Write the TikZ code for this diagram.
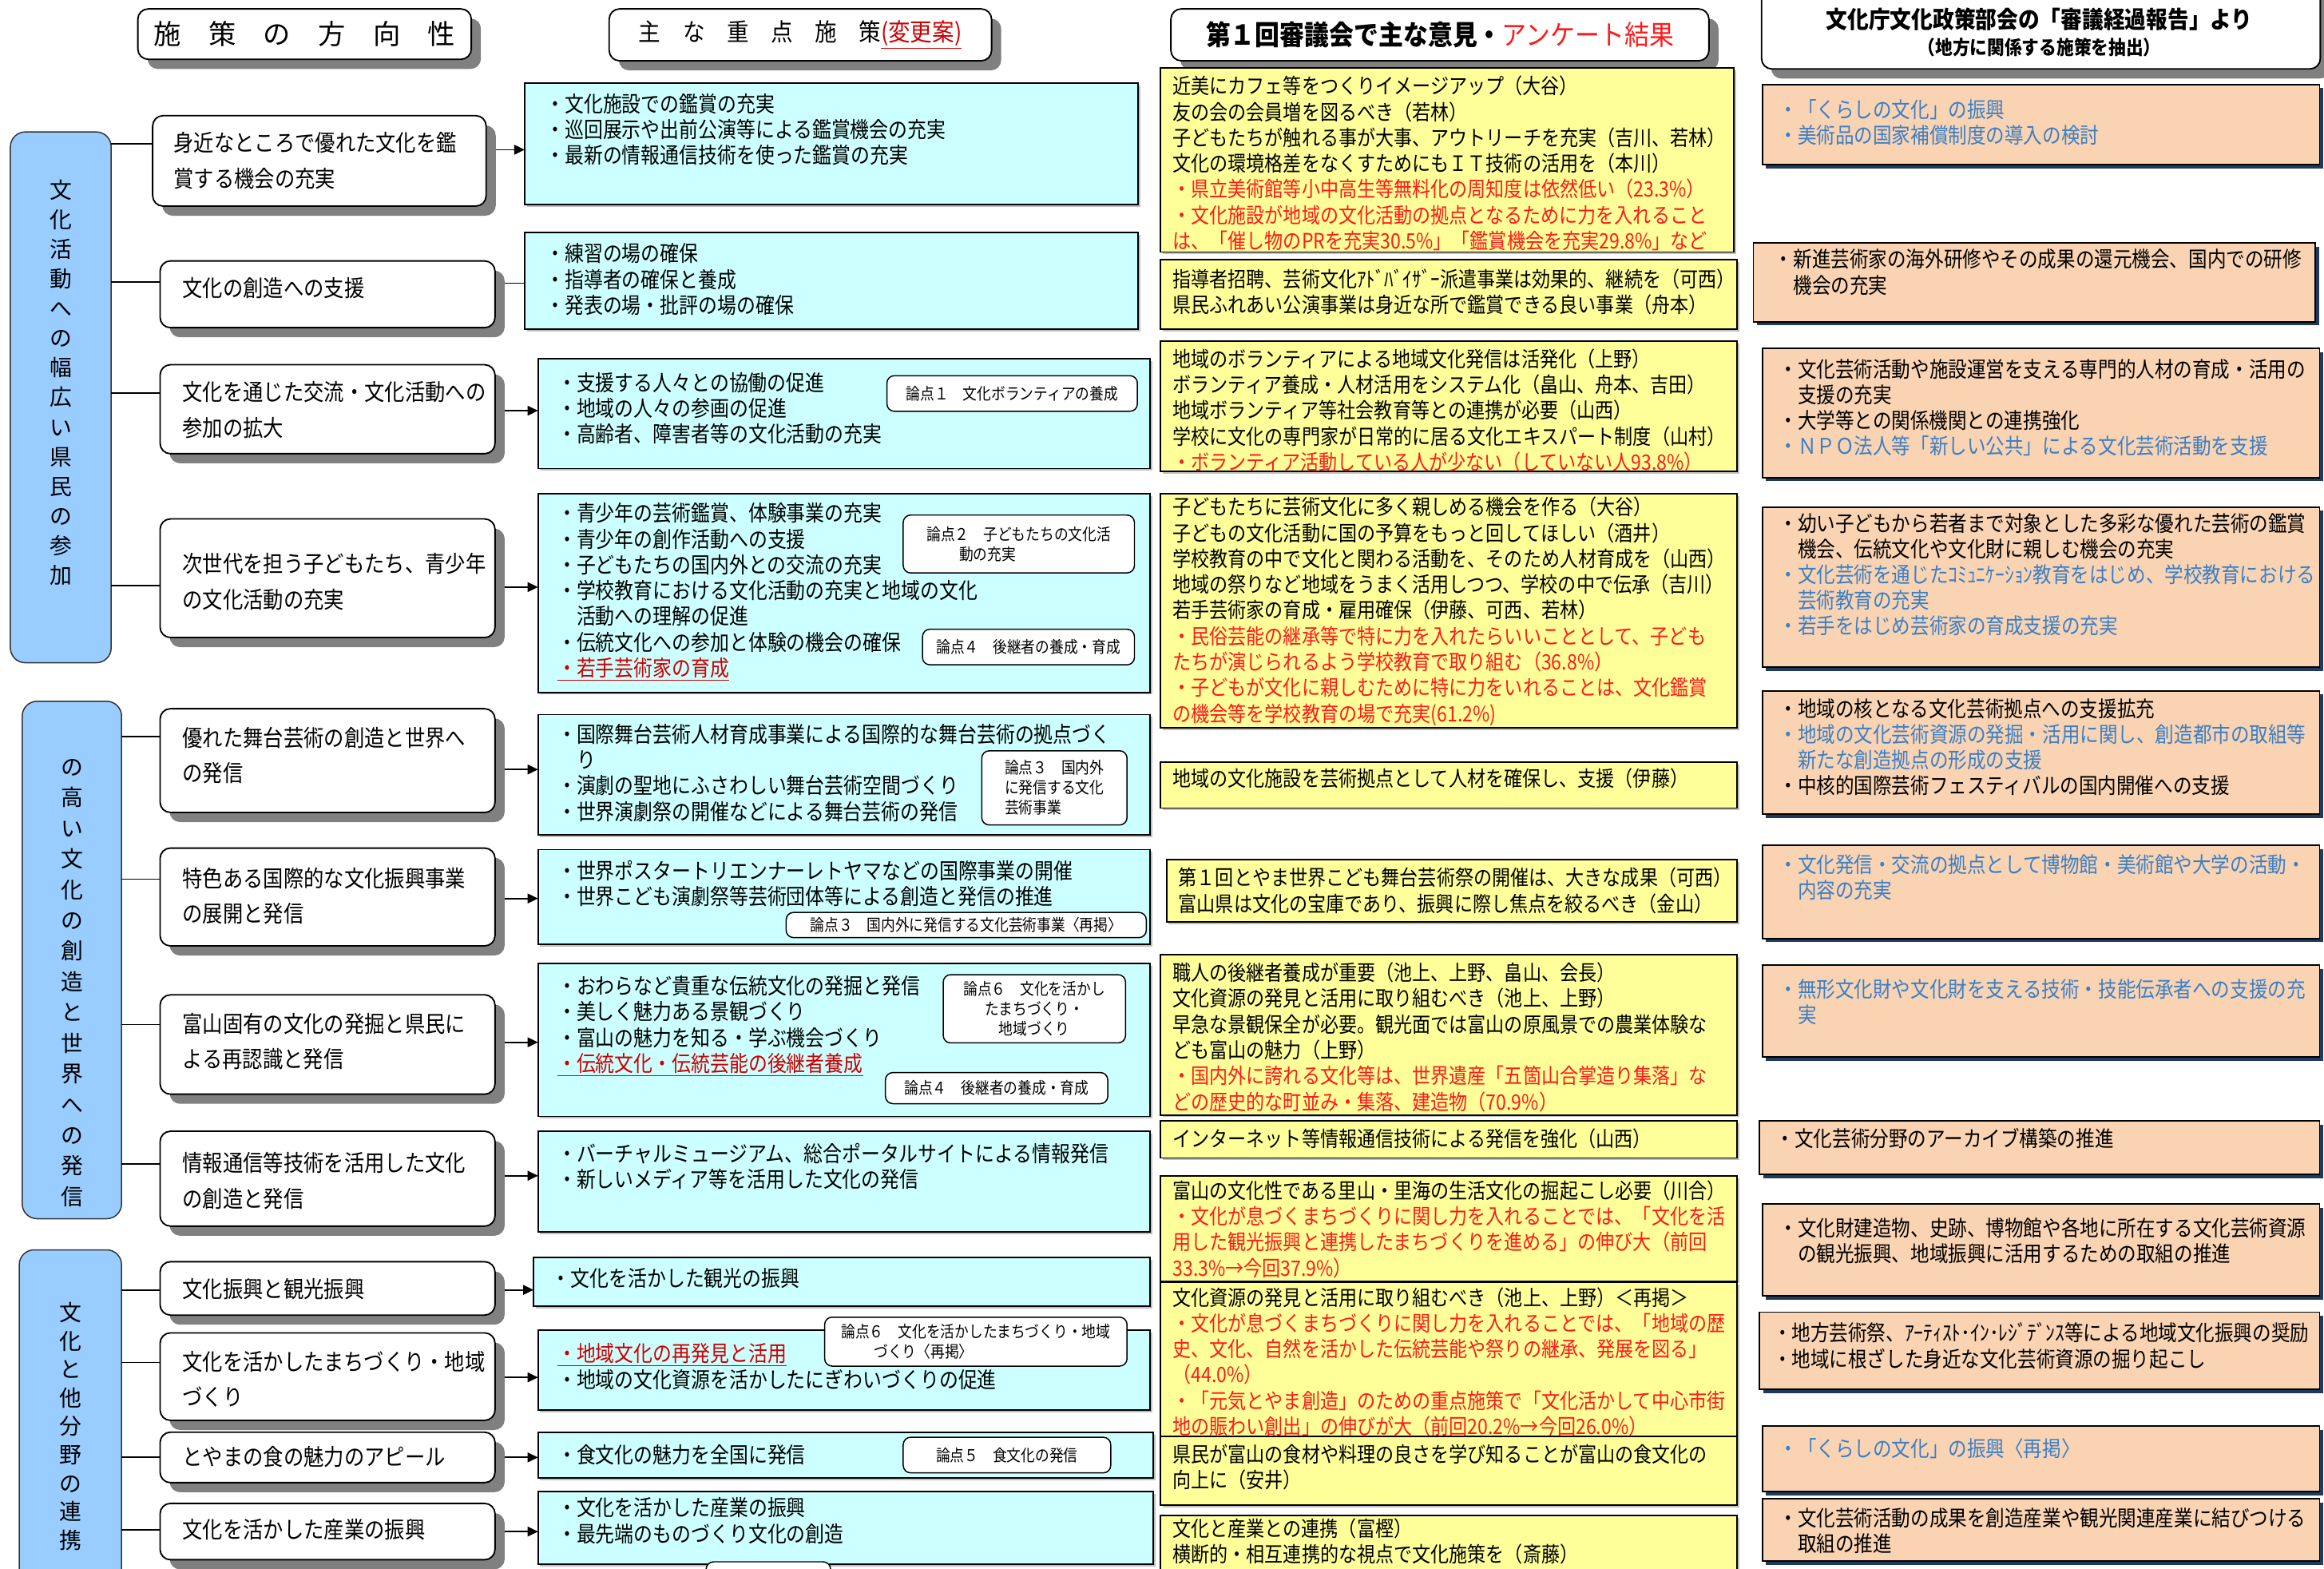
\documentclass[tikz,border=0pt]{standalone}
\usepackage{fontspec}
\setmainfont{Noto Sans CJK JP}
\newfontfamily\jp[FakeStretch=0.87]{Noto Sans CJK JP}
\newfontfamily\jpd[FakeStretch=0.88]{Noto Sans CJK JP}
\newfontfamily\jph[FakeStretch=0.9]{Noto Sans CJK JP}
\usetikzlibrary{shadows,arrows.meta}
\definecolor{cyanbox}{HTML}{CCFFFF}
\definecolor{yelbox}{HTML}{FFFF99}
\definecolor{peach}{HTML}{F9D3B2}
\definecolor{navy}{HTML}{1F3A5C}
\definecolor{grpblue}{HTML}{99CCFF}
\definecolor{shgray}{HTML}{808080}
\definecolor{bltext}{HTML}{3A7FC6}
\definecolor{rtext}{HTML}{FF1A1A}
\definecolor{ured}{HTML}{CC0000}
\newcommand\fbody{\jp\fontsize{14.3}{17.4}\selectfont}
\newcommand\fcy{\jp\fontsize{14.8}{17.4}\selectfont}
\newcommand\fpe{\jp\fontsize{14.6}{17.3}\selectfont}
\newcommand\fdir{\jpd\fontsize{15.5}{24}\selectfont}
\newcommand\ftag{\jp\fontsize{11}{13.5}\selectfont}
\newcommand\rl[1]{\textcolor{rtext}{#1}}
\newcommand\bl[1]{\textcolor{bltext}{#1}}
\newcommand\ul[1]{\textcolor{ured}{\underline{#1}}}
\newcommand\bx[6][]{\node[anchor=north west,inner sep=0pt,outer sep=0pt,minimum width={#5pt-#3pt},minimum height={#6pt-#4pt},#1] (#2) at (#3,#4) {};}
\newcommand\tx[5][]{\node[anchor=north west,inner sep=0pt,align=left,#1] (#2) at ([shift={(#4)}]#3.north west) {#5};}
\newcommand\tg[7][align=left]{\node[tagbox,font=\ftag,anchor=north west,inner sep=1pt,minimum width={#5pt-#3pt},minimum height={#6pt-#4pt},#1] (#2) at (#3,#4) {#7};}
\tikzset{
  cbox/.style={draw,line width=1pt,fill=cyanbox,drop shadow={shadow xshift=1.5pt,shadow yshift=-1.5pt,fill=gray!50,opacity=1}},
  ybox/.style={draw,line width=1pt,fill=yelbox,drop shadow={shadow xshift=1.5pt,shadow yshift=-1.5pt,fill=gray!50,opacity=1}},
  pbox/.style={draw,line width=1pt,fill=peach,drop shadow={shadow xshift=2.5pt,shadow yshift=-2.5pt,fill=navy,opacity=1}},
  dbox/.style={draw,line width=1pt,fill=white,rounded corners=7pt,drop shadow={shadow xshift=6.5pt,shadow yshift=-6.5pt,fill=shgray,opacity=1}},
  gbox/.style={draw=black!80,line width=0.8pt,fill=grpblue,rounded corners=10pt},
  tagbox/.style={draw,line width=0.8pt,fill=white,rounded corners=5pt},
  conn/.style={line width=1pt},
  arr/.style={line width=1pt,-{Triangle[length=7pt,width=6.5pt]}},
  btxt/.style={font=\fbody},
  ctxt/.style={font=\fcy},
  ptxt/.style={font=\fpe},
  dtxt/.style={font=\fdir},
  vtxt/.style={align=center,inner sep=0pt}
}
\begin{document}
\begin{tikzpicture}[x=1pt,y=-1pt]
\fill[white] (0,0) rectangle (1568,1058);
\useasboundingbox (0,0) rectangle (1568,1058);

% ---------- headers ----------
\bx[dbox]{H1}{93}{6}{318}{40}
\node[font=\fontsize{18.5}{20}\selectfont] (H1t) at (H1.center) {施　策　の　方　向　性};
\bx[dbox]{H2}{411}{6}{669}{41}
\node[font=\jph\fontsize{16.5}{18}\selectfont] (H2t) at (H2.center) {主　な　重　点　施　策\ul{(変更案)}};
\bx[dbox]{H3}{790}{6}{1153}{41}
\node[font=\jph\bfseries\fontsize{18.5}{20}\selectfont] (H3t) at (H3.center) {第１回審議会で主な意見・\textcolor{rtext}{\mdseries アンケート結果}};
\node[dbox,anchor=north west,inner sep=0pt,minimum width=377pt,minimum height=58pt] (H4) at (1188,-12) {};
\node[font=\jph\bfseries\fontsize{16}{18}\selectfont] (H4a) at (1376,13) {文化庁文化政策部会の「審議経過報告」より};
\node[font=\jph\bfseries\fontsize{13}{14}\selectfont] (H4b) at (1376,32) {（地方に関係する施策を抽出）};

% ---------- groups ----------
\bx[gbox]{G1}{7}{89}{75}{447}
\node[vtxt,font=\fontsize{15}{20}\selectfont] (G1t) at (41,258) {文\\化\\活\\動\\へ\\の\\幅\\広\\い\\県\\民\\の\\参\\加};
\bx[gbox]{G2}{15}{473}{82}{822}
\node[vtxt,font=\fontsize{15}{20.7}\selectfont] (G2t) at (48.5,663) {の\\高\\い\\文\\化\\の\\創\\造\\と\\世\\界\\へ\\の\\発\\信};
\bx[gbox]{G3}{13}{843}{82}{1080}
\node[vtxt,font=\fontsize{15}{19.2}\selectfont] (G3t) at (47.5,962) {文\\化\\と\\他\\分\\野\\の\\連\\携};

% ---------- direction boxes ----------
\bx[dbox]{D1}{103}{78}{328}{139}
\tx[dtxt]{D1t}{D1}{14,11}{身近なところで優れた文化を鑑\\賞する機会の充実}
\bx[dbox]{D2}{108}{176}{334}{221}
\tx[dtxt]{D2t}{D2}{15,11}{文化の創造への支援}
\bx[dbox]{D3}{108}{246}{334}{306}
\tx[dtxt]{D3t}{D3}{15,11}{文化を通じた交流・文化活動への\\参加の拡大}
\bx[dbox]{D4}{108}{350}{334}{430}
\tx[dtxt]{D4t}{D4}{15,23}{次世代を担う子どもたち、青少年\\の文化活動の充実}
\bx[dbox]{D5}{108}{478}{334}{548}
\tx[dtxt]{D5t}{D5}{15,12}{優れた舞台芸術の創造と世界へ\\の発信}
\bx[dbox]{D6}{108}{572}{334}{638}
\tx[dtxt]{D6t}{D6}{15,13}{特色ある国際的な文化振興事業\\の展開と発信}
\bx[dbox]{D7}{108}{671}{334}{738}
\tx[dtxt]{D7t}{D7}{15,12}{富山固有の文化の発掘と県民に\\よる再認識と発信}
\bx[dbox]{D8}{108}{763}{334}{827}
\tx[dtxt]{D8t}{D8}{15,14}{情報通信等技術を活用した文化\\の創造と発信}
\bx[dbox]{D9}{108}{851}{334}{887}
\tx[dtxt]{D9t}{D9}{15,11}{文化振興と観光振興}
\bx[dbox]{D10}{108}{899}{334}{958}
\tx[dtxt]{D10t}{D10}{15,12}{文化を活かしたまちづくり・地域\\づくり}
\bx[dbox]{D11}{108}{966}{334}{1000}
\tx[dtxt]{D11t}{D11}{15,9}{とやまの食の魅力のアピール}
\bx[dbox]{D12}{108}{1014}{334}{1052}
\tx[dtxt]{D12t}{D12}{15,10}{文化を活かした産業の振興}

% ---------- cyan boxes ----------
\bx[cbox]{C1}{354}{56}{768}{138}
\tx[ctxt]{C1t}{C1}{14,7}{・文化施設での鑑賞の充実\\・巡回展示や出前公演等による鑑賞機会の充実\\・最新の情報通信技術を使った鑑賞の充実}
\bx[cbox]{C2}{354}{157}{768}{222}
\tx[ctxt]{C2t}{C2}{14,7}{・練習の場の確保\\・指導者の確保と養成\\・発表の場・批評の場の確保}
\bx[cbox]{C3}{363}{242}{776}{316}
\tx[ctxt]{C3t}{C3}{13,9}{・支援する人々との協働の促進\\・地域の人々の参画の促進\\・高齢者、障害者等の文化活動の充実}
\tg{T1}{598}{253}{767}{277}{論点１　文化ボランティアの養成}
\bx[cbox]{C4}{363}{333}{776}{467}
\tx[ctxt]{C4t}{C4}{13,6}{・青少年の芸術鑑賞、体験事業の充実\\・青少年の創作活動への支援\\・子どもたちの国内外との交流の充実\\・学校教育における文化活動の充実と地域の文化\\　活動への理解の促進\\・伝統文化への参加と体験の機会の確保\\\ul{・若手芸術家の育成}}
\tg{T2}{609}{347}{765}{386}{論点２　子どもたちの文化活\\\hspace{2em}動の充実}
\tg{T3}{622}{424}{765}{448}{論点４　後継者の養成・育成}
\bx[cbox]{C5}{363}{482}{776}{563}
\tx[ctxt]{C5t}{C5}{13,6}{・国際舞台芸術人材育成事業による国際的な舞台芸術の拠点づく\\　り\\・演劇の聖地にふさわしい舞台芸術空間づくり\\・世界演劇祭の開催などによる舞台芸術の発信}
\tg{T4}{662}{506}{760}{556}{論点３　国内外\\に発信する文化\\芸術事業}
\bx[cbox]{C6}{363}{573}{776}{637}
\tx[ctxt]{C6t}{C6}{13,7}{・世界ポスタートリエンナーレトヤマなどの国際事業の開催\\・世界こども演劇祭等芸術団体等による創造と発信の推進}
\tg{T5}{530}{615}{773}{632}{論点３　国内外に発信する文化芸術事業〈再掲〉}
\bx[cbox]{C7}{363}{650}{776}{753}
\tx[ctxt]{C7t}{C7}{13,8}{・おわらなど貴重な伝統文化の発掘と発信\\・美しく魅力ある景観づくり\\・富山の魅力を知る・学ぶ機会づくり\\\ul{・伝統文化・伝統芸能の後継者養成}}
\tg[align=center]{T6}{636}{657}{759}{703}{論点６　文化を活かし\\たまちづくり・\\地域づくり}
\tg{T7}{597}{723}{747}{744}{論点４　後継者の養成・育成}
\bx[cbox]{C8}{363}{763}{776}{831}
\tx[ctxt]{C8t}{C8}{13,8}{・バーチャルミュージアム、総合ポータルサイトによる情報発信\\・新しいメディア等を活用した文化の発信}
\bx[cbox]{C9}{360}{848}{776}{881}
\tx[ctxt]{C9t}{C9}{12,7}{・文化を活かした観光の振興}
\bx[cbox]{C10}{363}{897}{776}{951}
\tx[ctxt]{C10t}{C10}{13,9}{\ul{・地域文化の再発見と活用}\\・地域の文化資源を活かしたにぎわいづくりの促進}
\tg{T8}{556}{888}{760}{921}{論点６　文化を活かしたまちづくり・地域\\\hspace{2em}づくり〈再掲〉}
\bx[cbox]{C11}{363}{966}{778}{997}
\tx[ctxt]{C11t}{C11}{13,8}{・食文化の魅力を全国に発信}
\tg{T9}{609}{969}{749}{993}{論点５　食文化の発信}
\bx[cbox]{C12}{363}{1006}{778}{1055}
\tx[ctxt]{C12t}{C12}{13,4}{・文化を活かした産業の振興\\・最先端のものづくり文化の創造}
\tg{T10}{476}{1053}{560}{1080}{}

% ---------- yellow boxes ----------
\bx[ybox]{Y1}{783}{46}{1170}{170}
\tx[btxt]{Y1t}{Y1}{8,5}{近美にカフェ等をつくりイメージアップ（大谷）\\友の会の会員増を図るべき（若林）\\子どもたちが触れる事が大事、アウトリーチを充実（吉川、若林）\\文化の環境格差をなくすためにもＩＴ技術の活用を（本川）\\\rl{・県立美術館等小中高生等無料化の周知度は依然低い（23.3\%）}\\\rl{・文化施設が地域の文化活動の拠点となるために力を入れること}\\\rl{は、「催し物のPRを充実30.5\%」「鑑賞機会を充実29.8\%」など}}
\bx[ybox]{Y2}{783}{175}{1172}{222}
\tx[btxt]{Y2t}{Y2}{8,6}{指導者招聘、芸術文化ｱﾄﾞﾊﾞｲｻﾞｰ派遣事業は効果的、継続を（可西）\\県民ふれあい公演事業は身近な所で鑑賞できる良い事業（舟本）}
\bx[ybox]{Y3}{783}{230}{1172}{318}
\tx[btxt]{Y3t}{Y3}{8,5}{地域のボランティアによる地域文化発信は活発化（上野）\\ボランティア養成・人材活用をシステム化（畠山、舟本、吉田）\\地域ボランティア等社会教育等との連携が必要（山西）\\学校に文化の専門家が日常的に居る文化エキスパート制度（山村）\\\rl{・ボランティア活動している人が少ない（していない人93.8\%）}}
\bx[ybox]{Y4}{783}{333}{1172}{491}
\tx[btxt]{Y4t}{Y4}{8,2}{子どもたちに芸術文化に多く親しめる機会を作る（大谷）\\子どもの文化活動に国の予算をもっと回してほしい（酒井）\\学校教育の中で文化と関わる活動を、そのため人材育成を（山西）\\地域の祭りなど地域をうまく活用しつつ、学校の中で伝承（吉川）\\若手芸術家の育成・雇用確保（伊藤、可西、若林）\\\rl{・民俗芸能の継承等で特に力を入れたらいいこととして、子ども}\\\rl{たちが演じられるよう学校教育で取り組む（36.8\%）}\\\rl{・子どもが文化に親しむために特に力をいれることは、文化鑑賞}\\\rl{の機会等を学校教育の場で充実(61.2\%)}}
\bx[ybox]{Y5}{783}{514}{1172}{545}
\tx[btxt]{Y5t}{Y5}{8,4}{地域の文化施設を芸術拠点として人材を確保し、支援（伊藤）}
\bx[ybox]{Y6}{787}{580}{1172}{622}
\tx[btxt]{Y6t}{Y6}{8,5}{第１回とやま世界こども舞台芸術祭の開催は、大きな成果（可西）\\富山県は文化の宝庫であり、振興に際し焦点を絞るべき（金山）}
\bx[ybox]{Y7}{783}{644}{1172}{752}
\tx[btxt]{Y7t}{Y7}{8,5}{職人の後継者養成が重要（池上、上野、畠山、会長）\\文化資源の発見と活用に取り組むべき（池上、上野）\\早急な景観保全が必要。観光面では富山の原風景での農業体験な\\ども富山の魅力（上野）\\\rl{・国内外に誇れる文化等は、世界遺産「五箇山合掌造り集落」な}\\\rl{どの歴史的な町並み・集落、建造物（70.9\%）}}
\bx[ybox]{Y8}{783}{756}{1172}{781}
\tx[btxt]{Y8t}{Y8}{8,5}{インターネット等情報通信技術による発信を強化（山西）}
\bx[ybox]{Y9}{783}{793}{1172}{864}
\tx[btxt]{Y9t}{Y9}{8,3}{富山の文化性である里山・里海の生活文化の掘起こし必要（川合）\\\rl{・文化が息づくまちづくりに関し力を入れることでは、「文化を活}\\\rl{用した観光振興と連携したまちづくりを進める」の伸び大（前回}\\\rl{33.3\%→今回37.9\%）}}
\bx[ybox]{Y10}{783}{865}{1172}{969}
\tx[btxt]{Y10t}{Y10}{8,3}{文化資源の発見と活用に取り組むべき（池上、上野）＜再掲＞\\\rl{・文化が息づくまちづくりに関し力を入れることでは、「地域の歴}\\\rl{史、文化、自然を活かした伝統芸能や祭りの継承、発展を図る」}\\\rl{（44.0\%）}\\\rl{・「元気とやま創造」のための重点施策で「文化活かして中心市街}\\\rl{地の賑わい創出」の伸びが大（前回20.2\%→今回26.0\%）}}
\bx[ybox]{Y11}{783}{969}{1172}{1015}
\tx[btxt]{Y11t}{Y11}{8,5}{県民が富山の食材や料理の良さを学び知ることが富山の食文化の\\向上に（安井）}
\bx[ybox]{Y12}{783}{1022}{1172}{1080}
\tx[btxt]{Y12t}{Y12}{8,2}{文化と産業との連携（富樫）\\横断的・相互連携的な視点で文化施策を（斎藤）}

% ---------- peach boxes ----------
\bx[pbox]{P1}{1189}{57}{1565}{111}
\tx[ptxt]{P1t}{P1}{11,10}{\bl{・「くらしの文化」の振興}\\\bl{・美術品の国家補償制度の導入の検討}}
\bx[pbox]{P2}{1183}{164}{1562}{217}
\tx[ptxt]{P2t}{P2}{14,4}{・新進芸術家の海外研修やその成果の還元機会、国内での研修\\　機会の充実}
\bx[pbox]{P3}{1189}{235}{1565}{322}
\tx[ptxt]{P3t}{P3}{11,7}{・文化芸術活動や施設運営を支える専門的人材の育成・活用の\\　支援の充実\\・大学等との関係機関との連携強化\\\bl{・ＮＰＯ法人等「新しい公共」による文化芸術活動を支援}}
\bx[pbox]{P4}{1189}{342}{1565}{450}
\tx[ptxt]{P4t}{P4}{11,4}{・幼い子どもから若者まで対象とした多彩な優れた芸術の鑑賞\\　機会、伝統文化や文化財に親しむ機会の充実\\\bl{・文化芸術を通じたｺﾐｭﾆｹｰｼｮﾝ教育をはじめ、学校教育における}\\\bl{　芸術教育の充実}\\\bl{・若手をはじめ芸術家の育成支援の充実}}
\bx[pbox]{P5}{1189}{466}{1565}{549}
\tx[ptxt]{P5t}{P5}{11,5}{・地域の核となる文化芸術拠点への支援拡充\\\bl{・地域の文化芸術資源の発掘・活用に関し、創造都市の取組等}\\\bl{　新たな創造拠点の形成の支援}\\・中核的国際芸術フェスティバルの国内開催への支援}
\bx[pbox]{P6}{1189}{570}{1565}{633}
\tx[ptxt]{P6t}{P6}{11,6}{\bl{・文化発信・交流の拠点として博物館・美術館や大学の活動・}\\\bl{　内容の充実}}
\bx[pbox]{P7}{1189}{651}{1565}{713}
\tx[ptxt]{P7t}{P7}{11,9}{\bl{・無形文化財や文化財を支える技術・技能伝承者への支援の充}\\\bl{　実}}
\bx[pbox]{P8}{1187}{756}{1565}{792}
\tx[ptxt]{P8t}{P8}{11,5}{・文化芸術分野のアーカイブ構築の推進}
\bx[pbox]{P9}{1189}{812}{1565}{874}
\tx[ptxt]{P9t}{P9}{11,9}{・文化財建造物、史跡、博物館や各地に所在する文化芸術資源\\　の観光振興、地域振興に活用するための取組の推進}
\bx[pbox]{P10}{1187}{885}{1565}{937}
\tx[ptxt]{P10t}{P10}{9,7}{・地方芸術祭、ｱｰﾃｨｽﾄ･ｲﾝ･ﾚｼﾞﾃﾞﾝｽ等による地域文化振興の奨励\\・地域に根ざした身近な文化芸術資源の掘り起こし}
\bx[pbox]{P11}{1189}{962}{1565}{1006}
\tx[ptxt]{P11t}{P11}{11,8}{\bl{・「くらしの文化」の振興〈再掲〉}}
\bx[pbox]{P12}{1189}{1011}{1565}{1053}
\tx[ptxt]{P12t}{P12}{11,6}{・文化芸術活動の成果を創造産業や観光関連産業に結びつける\\　取組の推進}

% ---------- group -> direction lines ----------
\path (D1.west) ++(0,-11.5) coordinate (g1);  \draw[conn] (g1) -- (g1 -| G1.east);
\path (D2.west) ++(0,-8.5) coordinate (g2);   \draw[conn] (g2) -- (g2 -| G1.east);
\path (D3.west) ++(0,-11) coordinate (g3);    \draw[conn] (g3) -- (g3 -| G1.east);
\path (D4.west) ++(0,5) coordinate (g4);      \draw[conn] (g4) -- (g4 -| G1.east);
\path (D5.west) ++(0,-16) coordinate (g5);    \draw[conn] (g5) -- (g5 -| G2.east);
\path (D6.west) ++(0,-12) coordinate (g6);    \draw[conn] (g6) -- (g6 -| G2.east);
\path (D7.west) ++(0,-13.5) coordinate (g7);  \draw[conn] (g7) -- (g7 -| G2.east);
\path (D8.west) ++(0,-10) coordinate (g8);    \draw[conn] (g8) -- (g8 -| G2.east);
\path (D9.west) ++(0,1) coordinate (g9);      \draw[conn] (g9) -- (g9 -| G3.east);
\path (D10.west) ++(0,-9.5) coordinate (g10); \draw[conn] (g10) -- (g10 -| G3.east);
\path (D11.west) ++(0,0) coordinate (g11);    \draw[conn] (g11) -- (g11 -| G3.east);
\path (D12.west) ++(0,-1) coordinate (g12);   \draw[conn] (g12) -- (g12 -| G3.east);

% ---------- direction -> measures arrows ----------
\path (D1.east) ++(6.5,-7.5) coordinate (a1);  \draw[arr] (a1) -- (a1 -| C1.west);
\path (D2.east) ++(6.5,-7.5) coordinate (a2);  \draw[conn] (a2) -- (a2 -| C2.west);
\path (D3.east) ++(6.5,1) coordinate (a3);     \draw[arr] (a3) -- (a3 -| C3.west);
\path (D4.east) ++(6.5,6) coordinate (a4);     \draw[arr] (a4) -- (a4 -| C4.west);
\path (D5.east) ++(6.5,6) coordinate (a5);     \draw[arr] (a5) -- (a5 -| C5.west);
\path (D6.east) ++(6.5,1) coordinate (a6);     \draw[arr] (a6) -- (a6 -| C6.west);
\path (D7.east) ++(6.5,-1.5) coordinate (a7);  \draw[arr] (a7) -- (a7 -| C7.west);
\path (D8.east) ++(6.5,-2) coordinate (a8);    \draw[arr] (a8) -- (a8 -| C8.west);
\path (D9.east) ++(6.5,1) coordinate (a9);     \draw[arr] (a9) -- (a9 -| C9.west);
\path (D10.east) ++(6.5,0.5) coordinate (a10); \draw[arr] (a10) -- (a10 -| C10.west);
\path (D11.east) ++(6.5,0) coordinate (a11);   \draw[arr] (a11) -- (a11 -| C11.west);
\path (D12.east) ++(6.5,0) coordinate (a12);   \draw[arr] (a12) -- (a12 -| C12.west);
\end{tikzpicture}
\end{document}
